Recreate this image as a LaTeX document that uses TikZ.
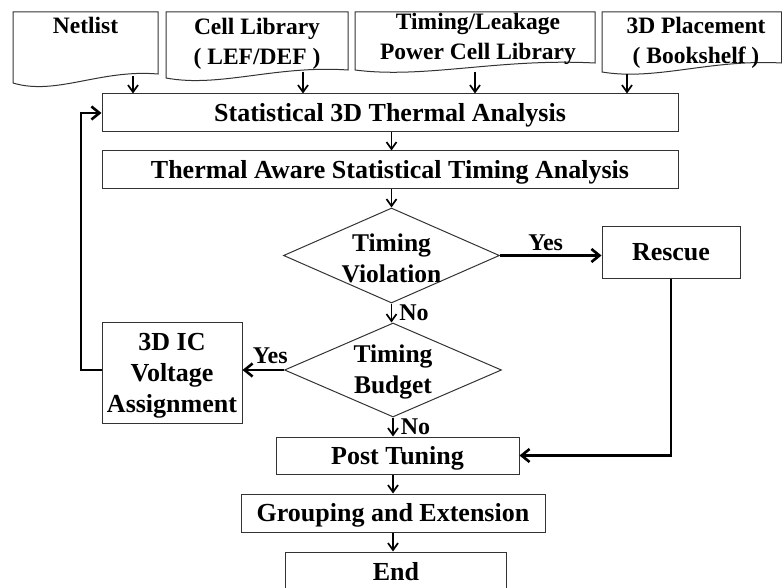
\documentclass[tikz,border=0pt]{standalone}
\usepackage{fontspec}
\setmainfont{Liberation Serif}
\usetikzlibrary{arrows.meta,shapes.geometric}

\begin{document}
\begin{tikzpicture}[x=1pt,y=-1pt,
  every node/.style={font=\bfseries\fontsize{26}{31}\selectfont, inner sep=0pt},
  box/.style={draw=black!80, line width=1pt, rectangle, anchor=center, align=center},
  onebox/.style={box, text height=17pt, text depth=0pt},
  dia/.style={draw=black!80, line width=1pt, shape=diamond, inner sep=0pt},
  doctext/.style={font=\bfseries\fontsize{23.5}{29.5}\selectfont, align=center, anchor=north},
  docline/.style={draw=black!80, line width=1pt},
  lbl/.style={font=\bfseries\fontsize{24}{28}\selectfont},
  feed/.style={draw=black, line width=1.7pt, -{Straight Barb[length=7pt,width=10pt]}},
  flow/.style={draw=black, line width=2.6pt, -{Straight Barb[length=8pt,width=13pt]}},
]
\useasboundingbox (0,0) rectangle (782,588);
\clip (0,0) rectangle (782,588);

% ---- input documents ----
\draw[docline] (13,12) -- (158,12) -- (158,74)
  .. controls (100,69) and (56,96) .. (13,83) -- cycle;
\node[doctext] (netlist) at (85.5,17) {Netlist};
\coordinate (netout) at (133,76);

\draw[docline] (166,12) -- (348,12) -- (348,70)
  .. controls (275,65) and (220,88) .. (166,78) -- cycle;
\node[doctext] (celllib) at (257,18) {Cell Library\\( LEF/DEF )};
\coordinate (cellout) at (303,72);

\draw[docline] (355,12) -- (595,12) -- (595,63)
  .. controls (499,58) and (425,79) .. (355,70) -- cycle;
\node[doctext] (powerlib) at (478,13) {Timing/Leakage\\Power Cell Library};
\coordinate (powerout) at (475,72);

\draw[docline] (602,12) -- (781.5,12) -- (781.5,63)
  .. controls (710,59) and (656,81) .. (602,72) -- cycle;
\node[doctext] (placement) at (696,17) {3D Placement\\( Bookshelf )};
\coordinate (placeout) at (627,74);

% ---- main flow ----
\node[onebox, minimum width=576pt, minimum height=38pt] (stat) at (390,113)
  {Statistical 3D Thermal Analysis};
\node[onebox, minimum width=576pt, minimum height=38pt] (ssta) at (390,170)
  {Thermal Aware Statistical Timing Analysis};

\node[dia, minimum width=216pt, minimum height=95pt] (viol) at (391.5,255.5) {};
\node[align=center, font=\bfseries\fontsize{25.5}{31}\selectfont] (violtxt) at (391.5,258) {Timing\\Violation};

\node[onebox, minimum width=138pt, minimum height=51pt] (rescue) at (671,252.5) {Rescue};

\node[dia, minimum width=217pt, minimum height=94pt] (budget) at (393,370) {};
\node[align=center, font=\bfseries\fontsize{25.5}{31}\selectfont] (budgettxt) at (393,372) {Timing\\Budget};

\node[box, minimum width=140pt, minimum height=101pt] (vassign) at (172,372.5) {};
\node[align=center] (vassigntxt) at (172,375.5) {3D IC\\Voltage\\Assignment};

\node[onebox, minimum width=243pt, minimum height=37pt] (post) at (397.5,455.5) {Post Tuning};
\node[onebox, minimum width=304pt, minimum height=38pt] (group) at (393,513) {Grouping and Extension};
\node[onebox, minimum width=221pt, minimum height=40pt] (finish) at (396,572) {End};

\coordinate (fbx) at (81,0);

% ---- connectors ----
\draw[feed] (netout) -- (netout |- stat.north);
\draw[feed] (cellout) -- (cellout |- stat.north);
\draw[feed] (powerout) -- (powerout |- stat.north);
\draw[feed] (placeout) -- (placeout |- stat.north);

\draw[feed] (viol.north |- stat.south) -- (viol.north |- ssta.north);
\draw[feed] (viol.north |- ssta.south) -- (viol.north);

\draw[feed] (viol.south) -- (viol.south |- budget.north)
  node[lbl, midway, anchor=west, xshift=7pt] (no1) {No};
\draw[flow] (viol.east) -- (viol.east -| rescue.west)
  node[lbl, pos=0.45, anchor=south, yshift=3pt] (yes1) {Yes};

\draw[flow] (budget.west) -- (budget.west -| vassign.east)
  node[lbl, pos=0.33, anchor=south, yshift=5pt] (yes2) {Yes};
\draw[feed] (budget.south) -- (budget.south |- post.north)
  node[lbl, midway, anchor=west, xshift=7pt] (no2) {No};

\draw[flow] (rescue.south) |- (post.east);
\draw[flow] (vassign.west |- budget.west) -| (fbx |- stat.west) -- (stat.west);

\draw[feed] (budget.south |- post.south) -- (budget.south |- group.north);
\draw[feed] (budget.south |- group.south) -- (budget.south |- finish.north);
\end{tikzpicture}
\end{document}
